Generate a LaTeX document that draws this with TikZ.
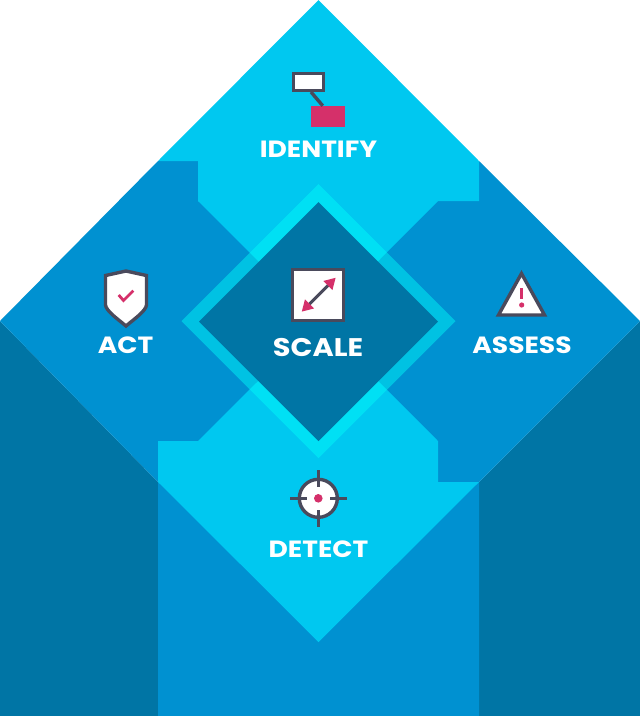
\documentclass[tikz,border=0pt]{standalone}
\usepackage{fontspec}
\setmainfont{Poppins}[FakeStretch=1.13]
\usetikzlibrary{arrows.meta}
\definecolor{darkblue}{HTML}{0075A5}
\definecolor{midblue}{HTML}{0091D1}
\definecolor{lightblue}{HTML}{00C8F0}
\definecolor{ringblue}{HTML}{00FFFA}
\definecolor{iconink}{HTML}{4A4A5C}
\definecolor{iconpink}{HTML}{D5306A}
\begin{document}
\begin{tikzpicture}[x=1pt,y=-1pt]
 \tikzset{label/.style = {text=white,inner sep=0pt,font=\fontsize{23.5}{24}\selectfont\bfseries}}
 \tikzset{iconbox/.style = {draw=iconink,fill=white,line width=3.4pt,inner sep=0pt}}
 \tikzset{iconline/.style = {draw=iconink,line width=3.4pt}}
 \tikzset{pinkline/.style = {draw=iconpink,line width=2.8pt}}
 \tikzset{tipped/.style = {iconline,line width=3pt,{Triangle[length=11pt,width=12pt,color=iconpink]}-{Triangle[length=11pt,width=12pt,color=iconpink]}}}
 \useasboundingbox (0,0) rectangle (640,716);
 \fill[darkblue] (0,321) -- (158,482) -- (158,716) -- (0,716) -- cycle;
 \fill[darkblue] (640,321) -- (479,482) -- (479,716) -- (640,716) -- cycle;
 \fill[midblue] (0,321) -- (158,161) -- (479,161) -- (640,321) -- (479,482) -- (479,716) -- (158,716) -- (158,482) -- cycle;
 \fill[lightblue] (318.5,0) -- (479,161) -- (479,201) -- (438,201) -- (318.5,321) -- (198,201) -- (198,161) -- (158,161) -- cycle;
 \fill[lightblue] (158,482) -- (158,441) -- (198,441) -- (318.5,321) -- (438,441) -- (438,482) -- (479,482) -- (318.5,642) -- cycle;
 \fill[ringblue,opacity=0.45] (318.5,184) -- (455.5,321) -- (318.5,458) -- (181.5,321) -- cycle;
 \fill[darkblue] (318.5,202) -- (438,321.5) -- (318.5,441) -- (199,321.5) -- cycle;

 \node[iconbox,minimum width=29.6pt,minimum height=16.6pt] (idtop) at (308.5,82) {};
 \node[fill=iconpink,minimum width=34pt,minimum height=21pt,inner sep=0pt] (idbot) at (328,116.5) {};
 \draw[iconline] ([xshift=2.5pt]idtop.south) -- ([xshift=12pt]idbot.north west);
 \node[label] (identify) at (318.5,149) {IDENTIFY};

 \draw[iconline,fill=white] (126,271) -- (105.5,275.5) -- (105.5,305) .. controls (106,311) and (119,320) .. (126,326) .. controls (133,320) and (146,311) .. (146.5,305) -- (146.5,275.5) -- cycle;
 \coordinate (checka) at (118.7,295);
 \coordinate (checkb) at (123.5,300.5);
 \coordinate (checkc) at (133.3,290.7);
 \draw[pinkline] (checka) -- (checkb) -- (checkc);
 \node[label] (act) at (125.5,345) {ACT};

 \node[iconbox,minimum size=50.6pt] (scalebox) at (318,295) {};
 \coordinate (scalea) at (301.7,311.7);
 \coordinate (scaleb) at (335.7,277.7);
 \draw[tipped] (scalea) -- (scaleb);
 \node[label,font=\fontsize{25.5}{26}\selectfont\bfseries] (scale) at (318,347.5) {SCALE};

 \draw[iconline,fill=white,line join=miter] (521.5,273.5) -- (544.5,315) -- (498.5,315) -- cycle;
 \coordinate (warna) at (521.7,288);
 \coordinate (warnb) at (521.7,299);
 \draw[pinkline,line width=3.4pt] (warna) -- (warnb);
 \node[fill=iconpink,circle,minimum size=5.2pt,inner sep=0pt] (warndot) at (521.7,305) {};
 \node[label] (assess) at (522,345) {ASSESS};

 \node[iconbox,circle,minimum size=38pt] (target) at (318.3,498.3) {};
 \node[fill=iconpink,circle,minimum size=8.6pt,inner sep=0pt] (targetdot) at (target.center) {};
 \coordinate (targetw) at (290,498.3);
 \coordinate (targete) at (346.7,498.3);
 \coordinate (targetn) at (318.3,470);
 \coordinate (targets) at (318.3,526.7);
 \draw[iconline] (targetw) -- (307,498.3);
 \draw[iconline] (targete) -- (329.6,498.3);
 \draw[iconline] (targetn) -- (318.3,487);
 \draw[iconline] (targets) -- (318.3,509.6);
 \node[label] (detect) at (318.5,549.5) {DETECT};
\end{tikzpicture}
\end{document}
